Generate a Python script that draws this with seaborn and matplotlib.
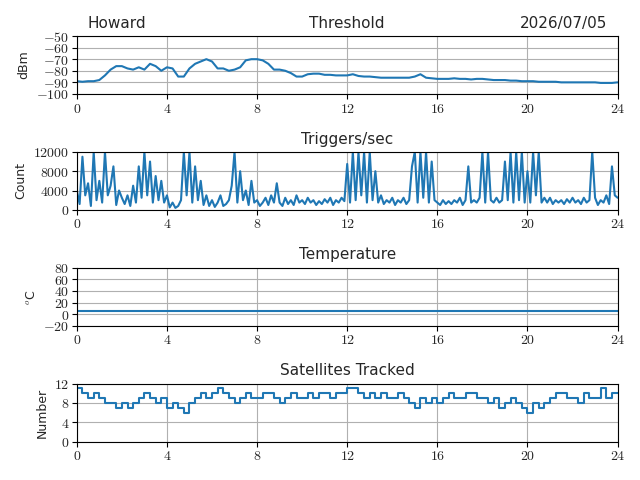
import matplotlib
matplotlib.use("Agg")
import matplotlib.pyplot as plt
import matplotlib.ticker as mticker
import numpy as np
import seaborn as sns

station = "Howard"
date_str = "2026/07/05"

threshold = [-89, -89.5, -89, -89, -88, -84, -79, -76, -76, -78, -79, -77, -79, -74, -76, -80,
             -77, -78, -85, -85, -78, -74, -72, -70, -72, -78, -78, -80, -79, -77, -71, -70,
             -70, -71, -74, -79, -79, -80, -82, -85, -85, -83, -82.5, -82.5, -83.5, -83.5, -84, -84,
             -84, -83, -84.5, -85, -85, -85.5, -86, -86, -86, -86, -86, -86, -85, -83, -86, -86.5,
             -87, -87, -87, -86.5, -87, -87, -87.5, -87, -87, -87.5, -88, -88, -88, -88.5, -88.5, -89,
             -89, -89, -89.5, -89.5, -89.5, -89.5, -90, -90, -90, -90, -90, -90, -90, -90.5, -90.5, -90.5, -90]

triggers = [4000, 1200, 11000, 3000, 5500, 800, 12000, 2000,
            6000, 1500, 12000, 3000, 5000, 9000, 1000, 4000,
            2500, 1200, 3000, 800, 5000, 1500, 9000, 2500,
            12000, 3000, 10000, 1500, 7000, 2000, 6000, 1500,
            3000, 500, 1500, 400, 800, 2000, 12000, 3000,
            12000, 1500, 9000, 2000, 6000, 1000, 3000, 800,
            2000, 600, 1500, 3000, 800, 1200, 2000, 5000,
            12000, 1500, 8000, 2000, 4000, 1000, 6000, 1500,
            2000, 800, 1500, 2500, 1000, 3000, 1500, 5500,
            1500, 800, 2500, 1200, 2000, 1000, 3000, 1500,
            2000, 1200, 2500, 1500, 2000, 1000, 1800, 1200,
            2200, 1500, 2500, 1000, 2000, 1500, 2500, 1800,
            9500, 1500, 12000, 2000, 12000, 3000, 12000, 1500,
            12000, 2000, 8000, 1500, 3000, 1200, 2000, 1500,
            2500, 1000, 2000, 1500, 2500, 1200, 2000, 9000,
            12000, 1500, 12000, 2500, 12000, 1500, 10000, 2000,
            1500, 1000, 2000, 1200, 1800, 1200, 2000, 1500,
            2500, 1000, 2000, 9000, 1500, 2000, 1500, 2500,
            12000, 1500, 12000, 2000, 1500, 2500, 1500, 2000,
            10000, 2000, 12000, 1500, 12000, 2000, 12000, 1500,
            8000, 1500, 12000, 3000, 12000, 1500, 2500, 1500,
            2500, 1200, 2000, 1500, 2000, 1200, 2200, 1500,
            2500, 1500, 2000, 1200, 2500, 1500, 2000, 12000,
            2500, 1000, 2000, 1500, 3000, 1200, 9000, 3000,
            2500]

temperature = [6, 6]
temp_hours = [0, 24]

satellites = [11, 10, 9, 10, 9, 8, 8, 7, 8, 7, 8, 9, 10, 9, 8, 9, 7, 8, 7, 6, 8, 9, 10, 9,
              10, 11, 10, 9, 8, 9, 10, 9, 9, 10, 10, 9, 8, 9, 10, 9, 9, 10, 9, 10, 10, 9, 10, 10,
              11, 11, 10, 9, 10, 9, 10, 9, 9, 10, 9, 8, 7, 9, 8, 9, 8, 9, 10, 9, 9, 10, 10, 9,
              9, 8, 9, 7, 8, 9, 8, 7, 6, 8, 7, 8, 9, 10, 10, 9, 9, 8, 10, 9, 9, 11, 9, 10, 10]

thr_hours = np.linspace(0, 24, len(threshold))
trig_hours = np.linspace(0, 24, len(triggers))
sat_hours = np.linspace(0, 24, len(satellites))

sns.set_style("ticks")
plt.rcParams["mathtext.fontset"] = "cm"
plt.rcParams["font.family"] = ["DejaVu Sans"]
plt.rcParams["font.size"] = 10

fig, axes = plt.subplots(4, 1, figsize=(6.4, 4.8), dpi=100)
blue = "#1f77b4"
tex_fmt = mticker.FuncFormatter(lambda v, p: f"${v:g}$")

panels = [
    (axes[0], thr_hours, threshold, "Threshold", "dBm", (-100, -50), np.arange(-100, -49, 10), None),
    (axes[1], trig_hours, triggers, "Triggers/sec", "Count", (0, 12000), [0, 4000, 8000, 12000], None),
    (axes[2], temp_hours, temperature, "Temperature", r"$^o$C", (-20, 80), np.arange(-20, 81, 20), None),
    (axes[3], sat_hours, satellites, "Satellites Tracked", "Number", (0, 12), [0, 4, 8, 12], "steps-post"),
]

for ax, x, y, title, ylabel, ylim, yticks, ds in panels:
    sns.lineplot(x=x, y=y, ax=ax, color=blue, linewidth=1.5, drawstyle=ds or "default")
    ax.set_title(title, fontsize=11)
    ax.set_ylabel(ylabel, fontsize=9)
    ax.set_xlim(0, 24)
    ax.set_ylim(*ylim)
    ax.set_yticks(yticks)
    ax.set_xticks(range(0, 25, 4))
    ax.xaxis.set_major_formatter(tex_fmt)
    ax.yaxis.set_major_formatter(tex_fmt)
    ax.tick_params(labelsize=10, direction="out", length=3.5, color="black", pad=2)
    ax.grid(True, color="#b0b0b0", linewidth=0.8)
    for s in ax.spines.values():
        s.set_visible(True)
        s.set_color("black")

axes[0].set_title(station, loc="left", x=0.02, fontsize=11)
axes[0].set_title(date_str, loc="right", x=0.98, fontsize=11)

fig.subplots_adjust(left=0.12, right=0.965, top=0.925, bottom=0.08, hspace=1.0)
fig.savefig("out.png", dpi=100)
